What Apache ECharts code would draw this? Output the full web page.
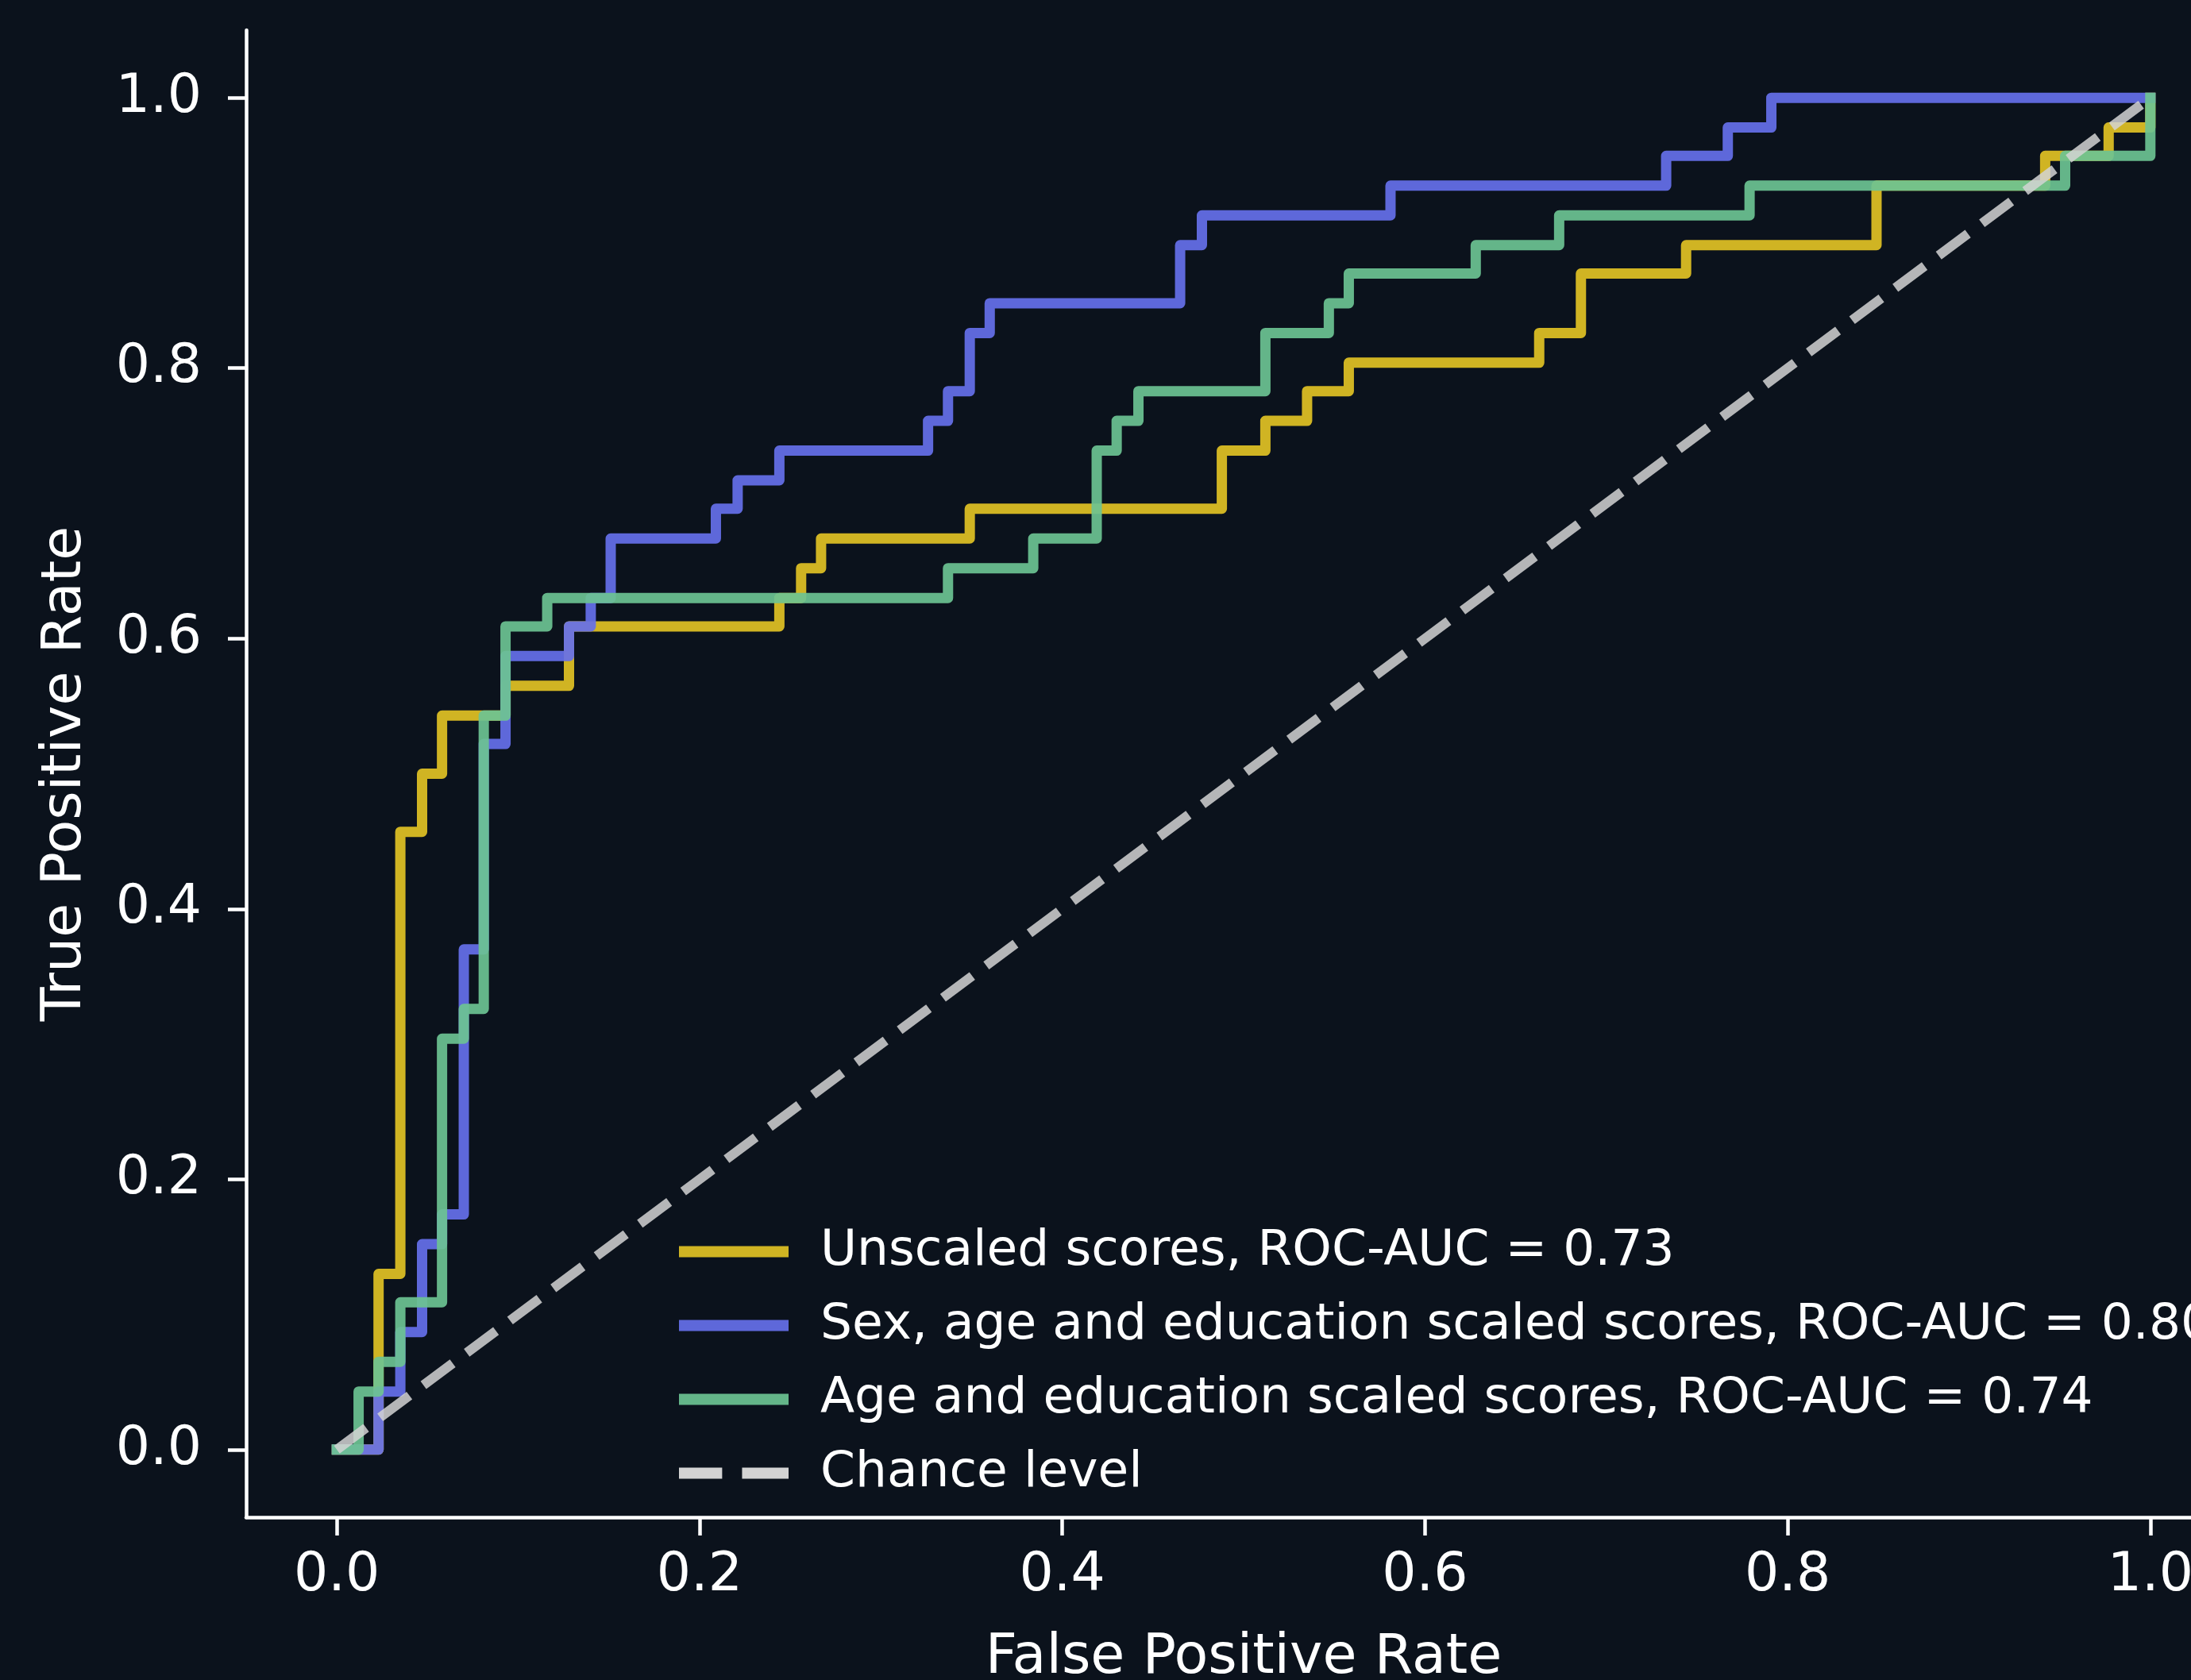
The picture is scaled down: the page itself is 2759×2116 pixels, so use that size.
<!DOCTYPE html>
<html>
<head>
<meta charset="utf-8">
<title>ROC curves</title>
<script src="https://cdn.jsdelivr.net/npm/echarts@6/dist/echarts.min.js"></script>
<style>
  html, body { margin: 0; padding: 0; background: #0b121c; overflow: hidden; }
  /* the plot runs past the right edge of the picture, so the canvas is wider than the window */
  #chart { width: 2900px; height: 2116px; }
</style>
</head>
<body>
<div id="chart"></div>
<script>
// tick labels
const xTicks = [0, 0.2, 0.4, 0.6, 0.8, 1.0];
const yTicks = [0, 0.2, 0.4, 0.6, 0.8, 1.0];

const seriesNames = [
  'Unscaled scores, ROC-AUC = 0.73',
  'Sex, age and education scaled scores, ROC-AUC = 0.80',
  'Age and education scaled scores, ROC-AUC = 0.74',
  'Chance level'
];

// ROC corners (fpr, tpr)
const unscaledFpr = [0, 0.023, 0.035, 0.047, 0.058, 0.093, 0.128, 0.244, 0.256, 0.267, 0.349, 0.488, 0.512, 0.535, 0.558, 0.663, 0.686, 0.744, 0.849, 0.942, 0.977, 1.0];
const unscaledTpr = [0, 0.130, 0.457, 0.500, 0.543, 0.565, 0.609, 0.630, 0.652, 0.674, 0.696, 0.739, 0.761, 0.783, 0.804, 0.826, 0.870, 0.891, 0.935, 0.957, 0.978, 1.0];

const sexAgeEduFpr = [0, 0.023, 0.035, 0.047, 0.058, 0.070, 0.081, 0.093, 0.128, 0.140, 0.151, 0.209, 0.221, 0.244, 0.326, 0.337, 0.349, 0.360, 0.465, 0.477, 0.581, 0.733, 0.767, 0.791, 1.0];
const sexAgeEduTpr = [0, 0.043, 0.087, 0.152, 0.174, 0.370, 0.522, 0.587, 0.609, 0.630, 0.674, 0.696, 0.717, 0.739, 0.761, 0.783, 0.826, 0.848, 0.891, 0.913, 0.935, 0.957, 0.978, 1.0, 1.0];

const ageEduFpr = [0, 0.012, 0.023, 0.035, 0.058, 0.070, 0.081, 0.093, 0.116, 0.337, 0.384, 0.419, 0.430, 0.442, 0.512, 0.547, 0.558, 0.628, 0.674, 0.779, 0.953, 1.0];
const ageEduTpr = [0, 0.043, 0.065, 0.109, 0.304, 0.326, 0.543, 0.609, 0.630, 0.652, 0.674, 0.739, 0.761, 0.783, 0.826, 0.848, 0.870, 0.891, 0.913, 0.935, 0.957, 1.0];

const chanceFpr = [0, 1];
const chanceTpr = [0, 1];

function zip(xs, ys) {
  return xs.map((x, i) => [x, ys[i]]);
}

const font = 'DejaVu Sans';
const fg = '#ffffff';
const colors = ['#e2c224', '#6670ea', '#6cc393', '#d3d3d3'];

function rocSeries(name, color, xs, ys) {
  return {
    name: name,
    type: 'line',
    step: 'end',
    symbol: 'none',
    data: zip(xs, ys),
    itemStyle: { color: color, opacity: 0.92 },
    lineStyle: { color: color, width: 13, opacity: 0.92, join: 'round', cap: 'square' },
    animation: false
  };
}

function axisCommon(ticks) {
  return {
    type: 'value',
    min: -0.05,
    max: 1.05,
    splitLine: { show: false },
    axisLine: { show: true, onZero: false, lineStyle: { color: fg, width: 4.5 } },
    axisTick: { show: true, customValues: ticks, length: 23, lineStyle: { color: fg, width: 4.5 } },
    nameTextStyle: { color: fg, fontSize: 70, fontFamily: font },
    nameLocation: 'middle'
  };
}

const chart = echarts.init(document.getElementById('chart'));

const xAxis = axisCommon(xTicks);
xAxis.name = 'False Positive Rate';
xAxis.nameGap = 143;
xAxis.axisLabel = {
  customValues: xTicks,
  color: fg, fontSize: 68, fontFamily: font, margin: 40,
  formatter: v => v.toFixed(1)
};

const yAxis = axisCommon(yTicks);
yAxis.name = 'True Positive Rate';
yAxis.nameGap = 192;
yAxis.axisLabel = {
  customValues: yTicks,
  color: fg, fontSize: 68, fontFamily: font, margin: 56,
  formatter: v => v.toFixed(1)
};

chart.setOption({
  backgroundColor: '#0b121c',
  animation: false,
  grid: {
    left: 310,
    top: 38,
    width: 2512,
    height: 1873,
    outerBoundsMode: 'none'
  },
  legend: {
    orient: 'vertical',
    left: 850,
    top: 1540,
    itemWidth: 138,
    itemHeight: 14,
    itemGap: 30,
    symbolKeepAspect: false,
    selectedMode: false,
    data: [
      { name: seriesNames[0], icon: 'rect' },
      { name: seriesNames[1], icon: 'rect' },
      { name: seriesNames[2], icon: 'rect' },
      { name: seriesNames[3], icon: 'path://M0,0H52V14H0Z M76,0H132V14H76Z' }
    ],
    textStyle: { color: fg, fontSize: 63, fontFamily: font, lineHeight: 63, padding: [0, 0, 0, 35] }
  },
  xAxis: xAxis,
  yAxis: yAxis,
  series: [
    rocSeries(seriesNames[0], colors[0], unscaledFpr, unscaledTpr),
    rocSeries(seriesNames[1], colors[1], sexAgeEduFpr, sexAgeEduTpr),
    rocSeries(seriesNames[2], colors[2], ageEduFpr, ageEduTpr),
    {
      name: seriesNames[3],
      type: 'line',
      symbol: 'none',
      data: zip(chanceFpr, chanceTpr),
      itemStyle: { color: colors[3] },
      lineStyle: { color: colors[3], width: 12, opacity: 0.85, type: [46, 22] },
      animation: false
    }
  ]
});
</script>
</body>
</html>
